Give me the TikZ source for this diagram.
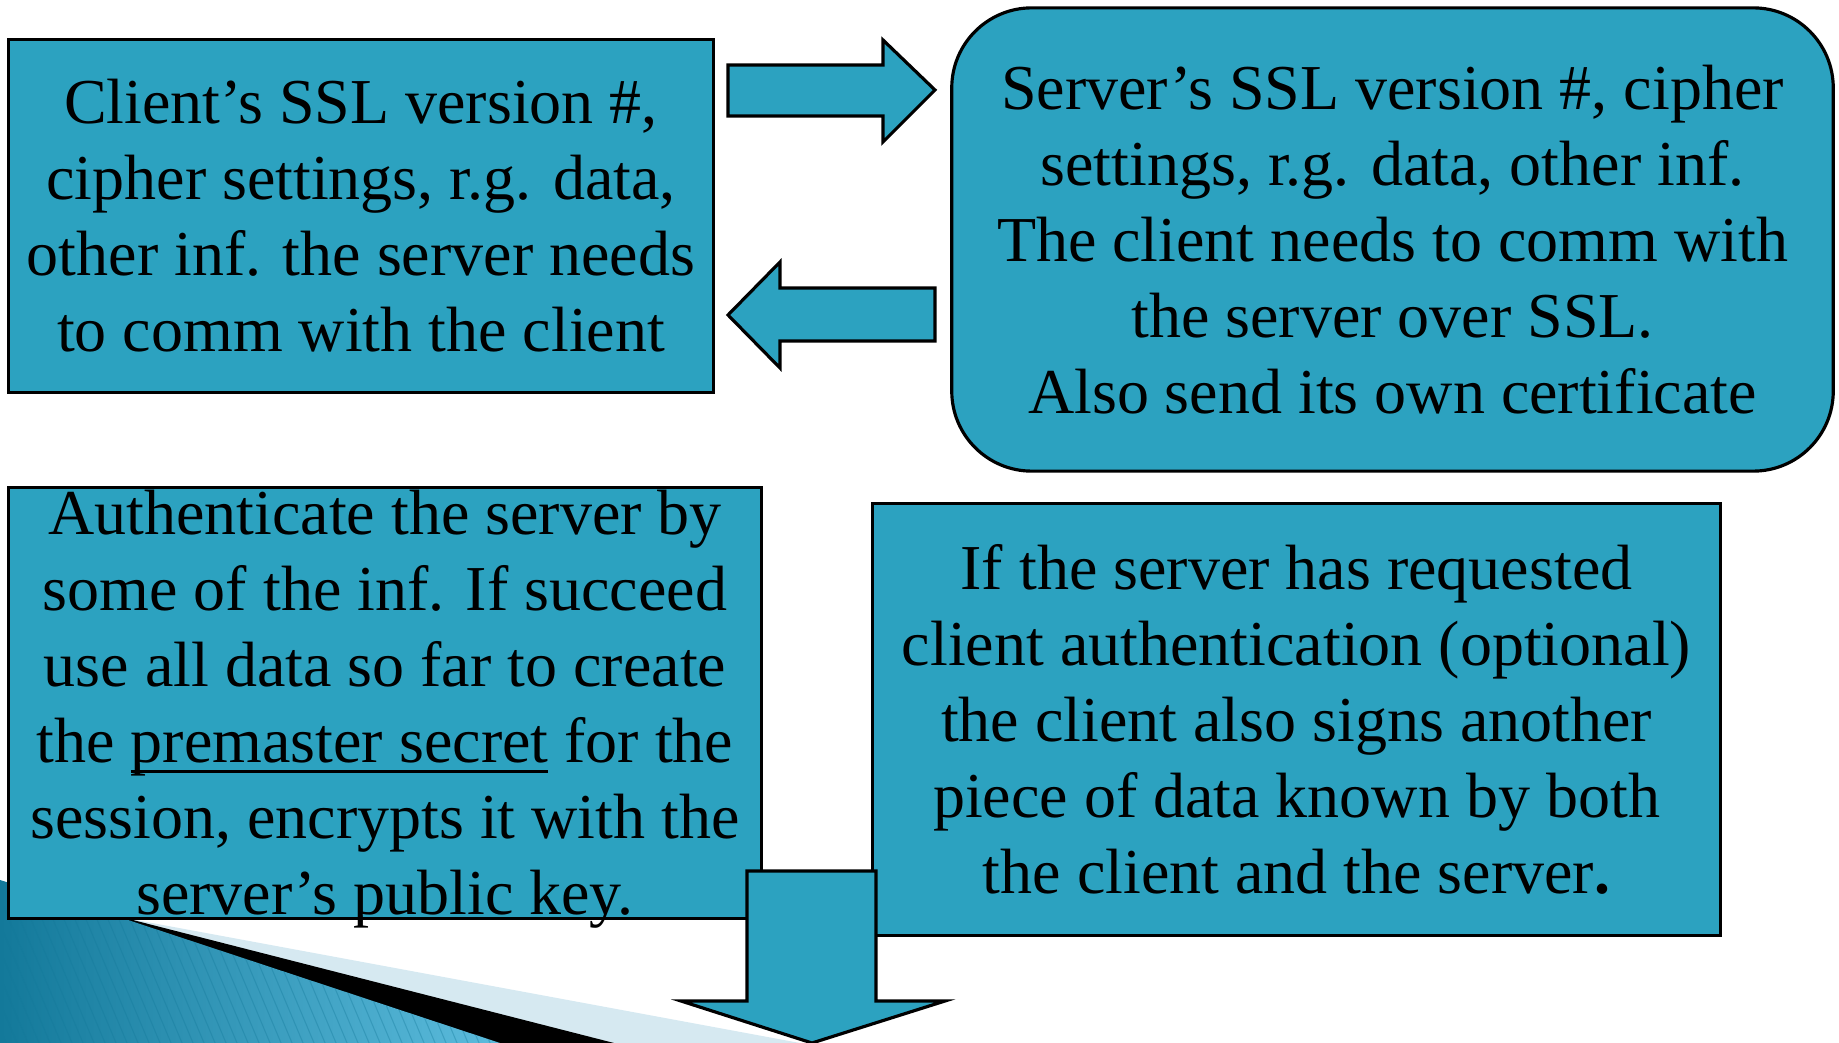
\documentclass[tikz,border=0pt]{standalone}
\usepackage{fontspec}
\setmainfont{Liberation Serif}
\usetikzlibrary{positioning}
\definecolor{slideblue}{HTML}{2CA2C0}
\definecolor{waveblue}{HTML}{D6E9F1}
\definecolor{darkteal}{HTML}{13799A}
\definecolor{lightteal}{HTML}{5CBCDD}
\newcommand{\thickul}[1]{\leavevmode\setbox0\hbox{#1}\rlap{\rule[-3pt]{\wd0}{0.9pt}}\box0\relax}
\tikzset{
  boxnode/.style={draw, line width=0.9pt, fill=slideblue, inner sep=0pt, align=center,
    font=\fontsize{18.2}{21.6}\selectfont},
  roundnode/.style={boxnode, rounded corners=0.8cm},
  bodytext/.style={font=\fontsize{18.2}{21.6}\selectfont, align=center, inner sep=0pt},
  blockarrow/.style={draw, line width=0.9pt, fill=slideblue, line join=miter}
}

\begin{document}
\begin{tikzpicture}[x=0.01cm, y=-0.01cm]
  \useasboundingbox (0,0) rectangle (1839,1043);

  % corner decoration
  \fill[waveblue] (125,918) -- (800,1043) -- (0,1043) -- cycle;
  \fill[black] (125,918) -- (614,1043) -- (0,1043) -- cycle;
  \shade[left color=darkteal, right color=lightteal]
    (0,880) -- (125,919) -- (500,1043) -- (0,1043) -- cycle;
  \begin{scope}
    \clip (0,880) -- (125,919) -- (500,1043) -- (0,1043) -- cycle;
    \foreach \s in {-500,-489,...,500}
      \draw[darkteal, opacity=0.35, line width=0.3pt] (\s,860) -- ++(80,190);
  \end{scope}

  % boxes
  \node[boxnode, minimum width=7.04cm, minimum height=3.52cm] (client) at (361,216)
    {Client’s SSL version \#,\\cipher settings, r.g. data,\\other inf. the server needs\\to comm with the client};
  \node[roundnode, minimum width=8.81cm, minimum height=4.63cm] (server) at (1392.5,239.5)
    {Server’s SSL version \#, cipher\\settings, r.g. data, other inf.\\The client needs to comm with\\the server over SSL.\\Also send its own certificate};
  \node[boxnode, minimum width=7.52cm, minimum height=4.30cm] (auth) at (385,703) {};
  \node[bodytext] (authtxt) at (385,709)
    {Authenticate the server by\\some of the inf. If succeed\\use all data so far to create\\the \thickul{premaster secret} for the\\session, encrypts it with the\\server’s public key.};
  \node[boxnode, minimum width=8.47cm, minimum height=4.31cm] (ifbox) at (1296.5,719.5)
    {If the server has requested\\client authentication (optional)\\the client also signs another\\piece of data known by both\\the client and the server\textbf{.}};

  % block arrows
  \draw[blockarrow] (728,65) -- (883,65) -- (883,40) -- (935,90) -- (883,142) -- (883,116) -- (728,116) -- cycle;
  \draw[blockarrow] (935,288) -- (780,288) -- (780,262) -- (728,315) -- (780,368) -- (780,341) -- (935,341) -- cycle;
  \draw[blockarrow] (747,871) -- (876,871) -- (876,1001) -- (945,1001) -- (812,1043) -- (681,1001) -- (747,1001) -- cycle;
\end{tikzpicture}
\end{document}
